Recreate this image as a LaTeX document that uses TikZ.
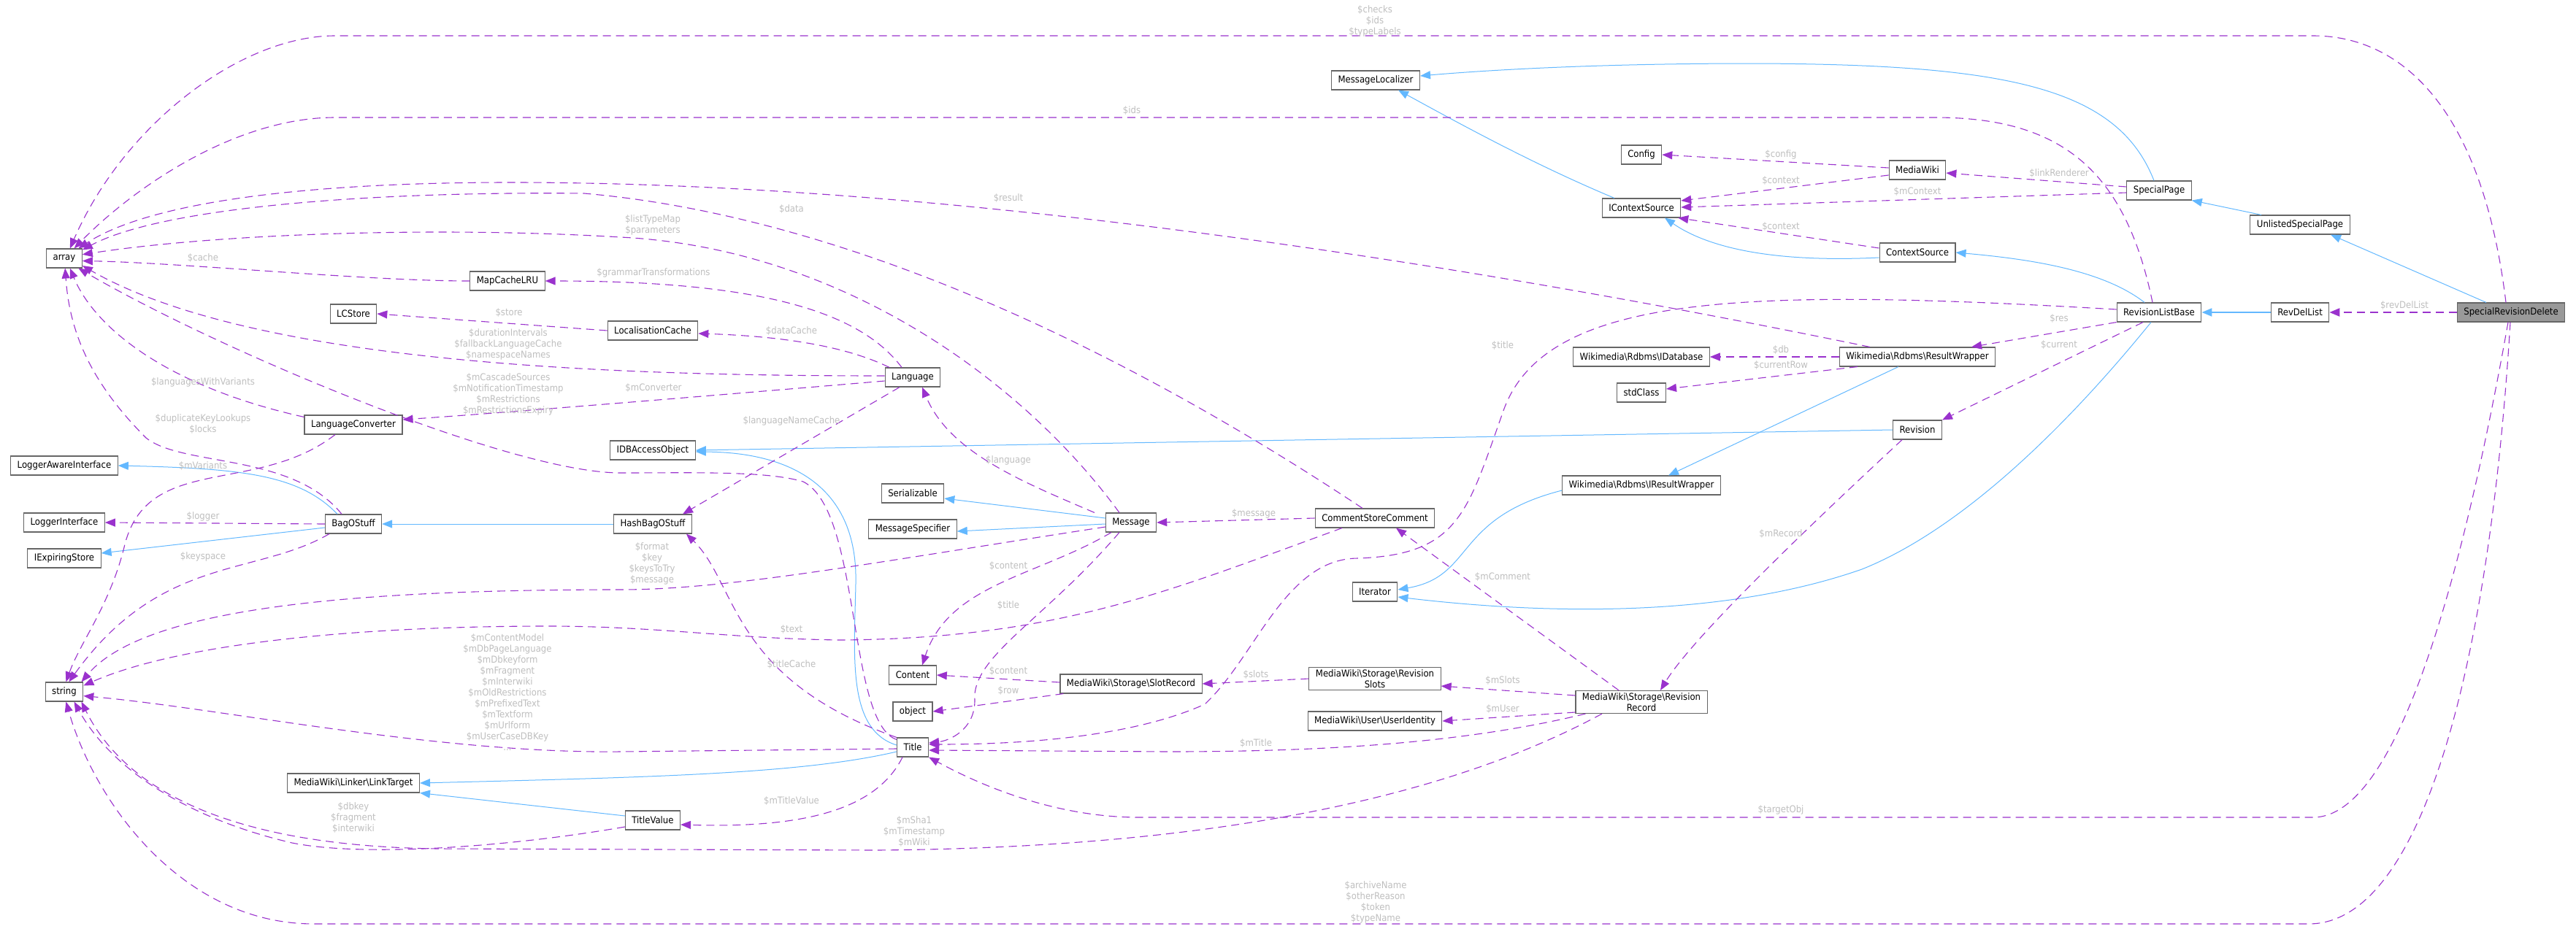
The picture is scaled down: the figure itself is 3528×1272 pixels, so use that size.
\documentclass[tikz,border=0pt]{standalone}
\usepackage{fontspec}
\setmainfont{DejaVu Sans Condensed}
\usepackage{tikz}
\usetikzlibrary{arrows.meta}

\definecolor{usecol}{HTML}{9A32CD}
\definecolor{inhcol}{HTML}{63B8FF}
\definecolor{lblgrey}{HTML}{BEBEBE}
\definecolor{boxgrey}{HTML}{666666}
\definecolor{maingrey}{HTML}{999999}
\newcommand{\dxfont}{\fontsize{13}{15}\selectfont}

\begin{document}
\begin{tikzpicture}[
    x=1pt, y=-1pt,
    every node/.style={align=center},
    classbox/.style={rectangle, draw=boxgrey, fill=white, line width=1.1pt, minimum height=26pt, inner xsep=9pt, inner ysep=3pt, font=\dxfont},
    mainclass/.style={classbox, fill=maingrey},
    memberlabel/.style={text=lblgrey, inner sep=0pt, font=\dxfont},
    uses/.style={draw=usecol, line width=1.1pt, dash pattern=on 11pt off 7pt, -{Triangle[length=14pt,width=11pt]}},
    inherits/.style={draw=inhcol, line width=1pt, -{Triangle[length=14pt,width=11pt]}},
    heavy/.style={line width=2.2pt}
]
\useasboundingbox (0,0) rectangle (3528,1272);

% Classes, right part
\node (specialrevdel) [mainclass] at (3439,428) {SpecialRevisionDelete};
\node (revdellist) [classbox] at (3150,428) {RevDelList};
\node (unlisted) [classbox] at (3150,308) {UnlistedSpecialPage};
\node (specialpage) [classbox] at (2957,261) {SpecialPage};
\node (revlistbase) [classbox] at (2957,428) {RevisionListBase};
\node (mediawiki) [classbox] at (2626,233) {MediaWiki};
\node (contextsource) [classbox] at (2626,346) {ContextSource};
\node (resultwrapper) [classbox] at (2626,489) {Wikimedia\textbackslash Rdbms\textbackslash ResultWrapper};
\node (revision) [classbox] at (2626,589) {Revision};

% Classes, middle part
\node (config) [classbox] at (2248,212) {Config};
\node (icontext) [classbox] at (2248,285) {IContextSource};
\node (idatabase) [classbox] at (2248,489) {Wikimedia\textbackslash Rdbms\textbackslash IDatabase};
\node (stdclass) [classbox] at (2248,538) {stdClass};
\node (iresultwrapper) [classbox] at (2248,665) {Wikimedia\textbackslash Rdbms\textbackslash IResultWrapper};
\node (revrecord) [classbox] at (2248,962) {MediaWiki\textbackslash Storage\textbackslash Revision\\Record};
\node (msglocalizer) [classbox] at (1884,110) {MessageLocalizer};
\node (commentstore) [classbox] at (1883,710) {CommentStoreComment};
\node (iterator) [classbox] at (1883,811) {Iterator};
\node (revslots) [classbox] at (1883,930) {MediaWiki\textbackslash Storage\textbackslash Revision\\Slots};
\node (useridentity) [classbox] at (1883,988) {MediaWiki\textbackslash User\textbackslash UserIdentity};
\node (message) [classbox] at (1549,716) {Message};
\node (slotrecord) [classbox] at (1549,937) {MediaWiki\textbackslash Storage\textbackslash SlotRecord};
\node (language) [classbox] at (1250,517) {Language};
\node (serializable) [classbox] at (1250,676) {Serializable};
\node (msgspec) [classbox] at (1250,725) {MessageSpecifier};
\node (content) [classbox] at (1250,925) {Content};
\node (object) [classbox] at (1250,975) {object};
\node (title) [classbox] at (1250,1024) {Title};

% Classes, left part
\node (localcache) [classbox] at (894,453) {LocalisationCache};
\node (idbaccess) [classbox] at (894,617) {IDBAccessObject};
\node (hashbag) [classbox] at (894,718) {HashBagOStuff};
\node (titlevalue) [classbox] at (894,1124) {TitleValue};
\node (mapcache) [classbox] at (695,385) {MapCacheLRU};
\node (lcstore) [classbox] at (484,430) {LCStore};
\node (langconv) [classbox] at (484,582) {LanguageConverter};
\node (bagostuff) [classbox] at (484,718) {BagOStuff};
\node (linktarget) [classbox] at (484,1073) {MediaWiki\textbackslash Linker\textbackslash LinkTarget};
\node (array) [classbox] at (88,354) {array};
\node (loggeraware) [classbox] at (88,638) {LoggerAwareInterface};
\node (loggeriface) [classbox] at (88,716) {LoggerInterface};
\node (iexpiring) [classbox] at (88,765) {IExpiringStore};
\node (string) [classbox] at (88,948) {string};

% Inheritance
\draw [inherits] ([xshift=-34pt]specialrevdel.north) -- ([xshift=42pt]unlisted.south);
\draw [inherits] ([xshift=-53pt]unlisted.north) -- (specialpage.south east);
\draw [inherits] ([xshift=-7pt]specialpage.north) .. controls (2900,120) and (2750,88) .. (2400,87) .. controls (2200,87) and (2050,95) .. ([yshift=6pt]msglocalizer.east);
\draw [inherits] ([xshift=-37pt]icontext.north) .. controls (2100,225) and (2000,170) .. ([xshift=31pt]msglocalizer.south);
\draw [inherits] ([yshift=-7pt]contextsource.west) .. controls (2430,360) and (2340,340) .. ([xshift=32pt]icontext.south);
\draw [inherits] ([xshift=-20pt]revlistbase.north) .. controls (2880,370) and (2780,355) .. (contextsource.east);
\draw [inherits, heavy] (revdellist.west) -- (revlistbase.east);
\draw [inherits] ([xshift=-11pt]revlistbase.south) .. controls (2850,560) and (2700,720) .. (2550,780) .. controls (2350,850) and (2100,840) .. ([yshift=-7pt]iterator.east);
\draw [inherits] ([xshift=-26pt]resultwrapper.south) -- ([xshift=37pt]iresultwrapper.north);
\draw [inherits] ([yshift=-7pt]iresultwrapper.west) .. controls (1990,710) and (2020,790) .. ([yshift=3pt]iterator.east);
\draw [inherits] (revision.west) -- (idbaccess.east);
\draw [inherits] ([yshift=3pt]title.west) .. controls (1160,1000) and (1170,900) .. (1172,800) .. controls (1175,680) and (1100,620) .. ([yshift=-2pt]idbaccess.east);
\draw [inherits] ([yshift=-6pt]title.west) .. controls (1100,1060) and (900,1065) .. (linktarget.east);
\draw [inherits] ([yshift=6pt]titlevalue.west) -- (linktarget.south east);
\draw [inherits] ([xshift=-22pt]bagostuff.north) .. controls (410,650) and (330,642) .. (loggeraware.east);
\draw [inherits] ([yshift=-5pt]bagostuff.west) -- ([yshift=7pt]iexpiring.east);
\draw [inherits] (hashbag.west) -- (bagostuff.east);
\draw [inherits] ([yshift=6pt]message.west) -- ([yshift=-7pt]serializable.east);
\draw [inherits] ([yshift=-2pt]message.west) -- ([yshift=-3pt]msgspec.east);

% Members
\draw [uses, heavy] (specialrevdel.west) -- (revdellist.east);
\draw [uses] ([xshift=-7pt]specialrevdel.north) .. controls (3400,150) and (3290,49) .. (3168,49) -- (459,49) .. controls (330,49) and (170,170) .. (array.60);
\draw [uses] ([xshift=-4pt]specialrevdel.south) .. controls (3380,750) and (3290,1120) .. (3168,1120) -- (1560,1120) .. controls (1450,1120) and (1350,1080) .. (title.south east);
\draw [uses] ([xshift=-1pt]specialrevdel.south) .. controls (3410,900) and (3320,1266) .. (3162,1266) -- (430,1266) .. controls (250,1266) and (130,1100) .. (string.-80);
\draw [uses] ([xshift=-9pt]revlistbase.north) .. controls (2910,230) and (2820,161) .. (2650,161) -- (459,161) .. controls (320,161) and (180,260) .. (array.45);
\draw [uses] ([xshift=-65pt]resultwrapper.north) .. controls (2000,360) and (1300,250) .. (700,250) .. controls (400,250) and (200,280) .. (array.35);
\draw [uses] ([xshift=-17pt]commentstore.north) .. controls (1600,520) and (1200,300) .. (800,265) .. controls (500,262) and (220,285) .. (array.25);
\draw [uses] ([xshift=-16pt]message.north) .. controls (1400,520) and (1150,340) .. (850,325) .. controls (600,310) and (300,320) .. (array.12);
\draw [uses] ([xshift=-15pt]language.north) .. controls (1180,430) and (1050,385) .. (mapcache.east);
\draw [uses] (mapcache.west) .. controls (500,385) and (250,360) .. (array.-8);
\draw [uses] (localcache.west) -- (lcstore.east);
\draw [uses] ([xshift=-32pt]language.north) .. controls (1150,470) and (1050,460) .. ([yshift=-4pt]localcache.east);
\draw [uses] ([yshift=2pt]language.west) .. controls (850,515) and (350,500) .. (array.-22);
\draw [uses] ([yshift=-5pt]language.west) .. controls (1000,540) and (700,565) .. ([yshift=7pt]langconv.east);
\draw [uses] ([yshift=-3pt]title.north west) .. controls (1160,990) and (1180,700) .. (1100,660) .. controls (1050,645) and (950,648) .. (850,648) .. controls (700,648) and (300,480) .. (array.-35);
\draw [uses] ([yshift=-3pt]langconv.north west) .. controls (230,530) and (130,450) .. (array.-60);
\draw [uses] ([xshift=-16pt]bagostuff.north) .. controls (400,620) and (250,640) .. (200,600) .. controls (120,520) and (95,450) .. (array.-85);
\draw [uses] ([xshift=-33pt]bagostuff.south) .. controls (350,790) and (220,760) .. (string.65);
\draw [uses] ([xshift=-25pt]langconv.south) .. controls (350,680) and (200,620) .. (170,750) .. controls (150,830) and (110,880) .. (string.80);
\draw [uses] (bagostuff.west) -- (loggeriface.east);
\draw [uses] ([yshift=-6pt]message.west) .. controls (1200,770) and (1000,808) .. (850,808) .. controls (500,808) and (200,830) .. (string.30);
\draw [uses] ([yshift=-2pt]title.west) -- (850,1030) .. controls (600,1033) and (300,970) .. (string.-12);
\draw [uses] ([xshift=-45pt]commentstore.south) .. controls (1600,810) and (1450,875) .. (1150,877) .. controls (1000,875) and (900,858) .. (750,858) .. controls (500,858) and (250,880) .. (string.18);
\draw [uses] ([xshift=-50pt]message.north) .. controls (1400,660) and (1300,620) .. ([xshift=13pt]language.south);
\draw [uses] ([xshift=-27pt]message.south) .. controls (1420,790) and (1300,800) .. ([xshift=13pt]content.north);
\draw [uses] ([xshift=-16pt]message.south) .. controls (1430,850) and (1330,900) .. (1335,960) .. controls (1335,1000) and (1300,1015) .. ([yshift=6pt]title.east);
\draw [uses] (commentstore.west) -- (message.east);
\draw [uses] ([yshift=2pt]slotrecord.west) -- (content.east);
\draw [uses] ([xshift=5pt]slotrecord.south west) -- (object.east);
\draw [uses] (revslots.west) -- (slotrecord.east);
\draw [uses] ([xshift=-31pt]revrecord.north) -- ([xshift=29pt]commentstore.south);
\draw [uses] ([yshift=9pt]revrecord.west) -- ([yshift=-10pt]revslots.east);
\draw [uses] ([yshift=-14pt]revrecord.west) -- (useridentity.east);
\draw [uses] ([xshift=14pt]revrecord.south west) .. controls (2000,1020) and (1800,1030) .. (1600,1030) -- ([yshift=-4pt]title.east);
\draw [uses] ([xshift=-54pt]revrecord.south) .. controls (1950,1110) and (1600,1162) .. (1200,1165) -- (600,1163) .. controls (350,1160) and (180,1100) .. (string.-30);
\draw [uses] ([yshift=-9pt]titlevalue.west) .. controls (700,1160) and (500,1175) .. (400,1155) .. controls (250,1120) and (150,1050) .. (string.-45);
\draw [uses] ([xshift=-14pt]title.south) .. controls (1200,1110) and (1100,1135) .. ([yshift=-6pt]titlevalue.east);
\draw [uses] (title.north west) .. controls (1000,930) and (1010,800) .. ([xshift=-8pt]hashbag.south east);
\draw [uses] ([xshift=-18pt]language.south) -- ([xshift=41pt]hashbag.north);
\draw [uses] ([xshift=13pt]revision.south west) .. controls (2500,700) and (2320,870) .. ([xshift=26pt]revrecord.north);
\draw [uses] (resultwrapper.west) -- (idatabase.east);
\draw [uses] ([xshift=25pt]resultwrapper.south west) -- ([yshift=5pt]stdclass.east);
\draw [uses] ([yshift=3pt]mediawiki.west) -- (config.east);
\draw [uses] ([yshift=-7pt]mediawiki.west) -- ([yshift=10pt]icontext.east);
\draw [uses] ([yshift=-3pt]specialpage.west) -- ([yshift=1pt]icontext.east);
\draw [uses] ([yshift=6pt]contextsource.west) -- ([xshift=-4pt]icontext.south east);
\draw [uses] ([yshift=5pt]specialpage.west) -- ([yshift=-4pt]mediawiki.east);
\draw [uses] (revlistbase.south west) -- ([xshift=74pt]resultwrapper.north);
\draw [uses] ([xshift=-22pt]revlistbase.south) -- (revision.north east);
\draw [uses] ([yshift=4pt]revlistbase.west) .. controls (2400,395) and (2120,400) .. (2060,560) .. controls (2010,700) and (2000,760) .. (1860,765) .. controls (1760,765) and (1720,900) .. (1650,965) .. controls (1550,1010) and (1400,1020) .. ([yshift=4pt]title.east);

% Member labels
\node (lrevdellist) [memberlabel] at (3293,419) {\$revDelList};
\node (lchecks) [memberlabel] at (1883,29) {\$checks\\\$ids\\\$typeLabels};
\node (ltargetobj) [memberlabel] at (2439,1110) {\$targetObj};
\node (larchive) [memberlabel] at (1884,1236) {\$archiveName\\\$otherReason\\\$token\\\$typeName};
\node (lids) [memberlabel] at (1550,152) {\$ids};
\node (lresult) [memberlabel] at (1381,272) {\$result};
\node (ldata) [memberlabel] at (1084,287) {\$data};
\node (llisttype) [memberlabel] at (894,308) {\$listTypeMap\\\$parameters};
\node (lgrammar) [memberlabel] at (895,374) {\$grammarTransformations};
\node (lcache) [memberlabel] at (278,354) {\$cache};
\node (lstore) [memberlabel] at (697,429) {\$store};
\node (ldatacache) [memberlabel] at (1084,454) {\$dataCache};
\node (lduration) [memberlabel] at (696,472) {\$durationIntervals\\\$fallbackLanguageCache\\\$namespaceNames};
\node (lconverter) [memberlabel] at (895,532) {\$mConverter};
\node (lcascade) [memberlabel] at (696,540) {\$mCascadeSources\\\$mNotificationTimestamp\\\$mRestrictions\\\$mRestrictionsExpiry};
\node (lvariantlangs) [memberlabel] at (278,524) {\$languagesWithVariants};
\node (ldupkeys) [memberlabel] at (278,581) {\$duplicateKeyLookups\\\$locks};
\node (lmvariants) [memberlabel] at (278,639) {\$mVariants};
\node (llogger) [memberlabel] at (278,708) {\$logger};
\node (lkeyspace) [memberlabel] at (278,763) {\$keyspace};
\node (lformat) [memberlabel] at (893,772) {\$format\\\$key\\\$keysToTry\\\$message};
\node (ltext) [memberlabel] at (1084,863) {\$text};
\node (ltitlestr) [memberlabel] at (695,949) {\$mContentModel\\\$mDbPageLanguage\\\$mDbkeyform\\\$mFragment\\\$mInterwiki\\\$mOldRestrictions\\\$mPrefixedText\\\$mTextform\\\$mUrlform\\\$mUserCaseDBKey\\...};
\node (llangnames) [memberlabel] at (1084,577) {\$languageNameCache};
\node (ltitlecache) [memberlabel] at (1084,911) {\$titleCache};
\node (lmtitlevalue) [memberlabel] at (1084,1098) {\$mTitleValue};
\node (ldbkey) [memberlabel] at (484,1120) {\$dbkey\\\$fragment\\\$interwiki};
\node (lsha) [memberlabel] at (1252,1139) {\$mSha1\\\$mTimestamp\\\$mWiki};
\node (llanguage) [memberlabel] at (1381,631) {\$language};
\node (lcontent) [memberlabel] at (1381,776) {\$content};
\node (ltitle) [memberlabel] at (1381,830) {\$title};
\node (lmessage) [memberlabel] at (1717,704) {\$message};
\node (lslotcontent) [memberlabel] at (1381,920) {\$content};
\node (lrow) [memberlabel] at (1381,947) {\$row};
\node (lslots) [memberlabel] at (1720,925) {\$slots};
\node (lmcomment) [memberlabel] at (2058,791) {\$mComment};
\node (lmslots) [memberlabel] at (2058,933) {\$mSlots};
\node (lmuser) [memberlabel] at (2058,972) {\$mUser};
\node (lmtitle) [memberlabel] at (1720,1019) {\$mTitle};
\node (lmrecord) [memberlabel] at (2439,732) {\$mRecord};
\node (ldb) [memberlabel] at (2439,480) {\$db};
\node (lcurrentrow) [memberlabel] at (2439,501) {\$currentRow};
\node (lconfig) [memberlabel] at (2439,212) {\$config};
\node (lcontext) [memberlabel] at (2439,248) {\$context};
\node (lmcontext) [memberlabel] at (2626,263) {\$mContext};
\node (lcontextsrc) [memberlabel] at (2439,311) {\$context};
\node (llinkrenderer) [memberlabel] at (2820,238) {\$linkRenderer};
\node (lres) [memberlabel] at (2820,437) {\$res};
\node (lcurrent) [memberlabel] at (2820,473) {\$current};
\node (lrlbtitle) [memberlabel] at (2058,474) {\$title};

\end{tikzpicture}
\end{document}
